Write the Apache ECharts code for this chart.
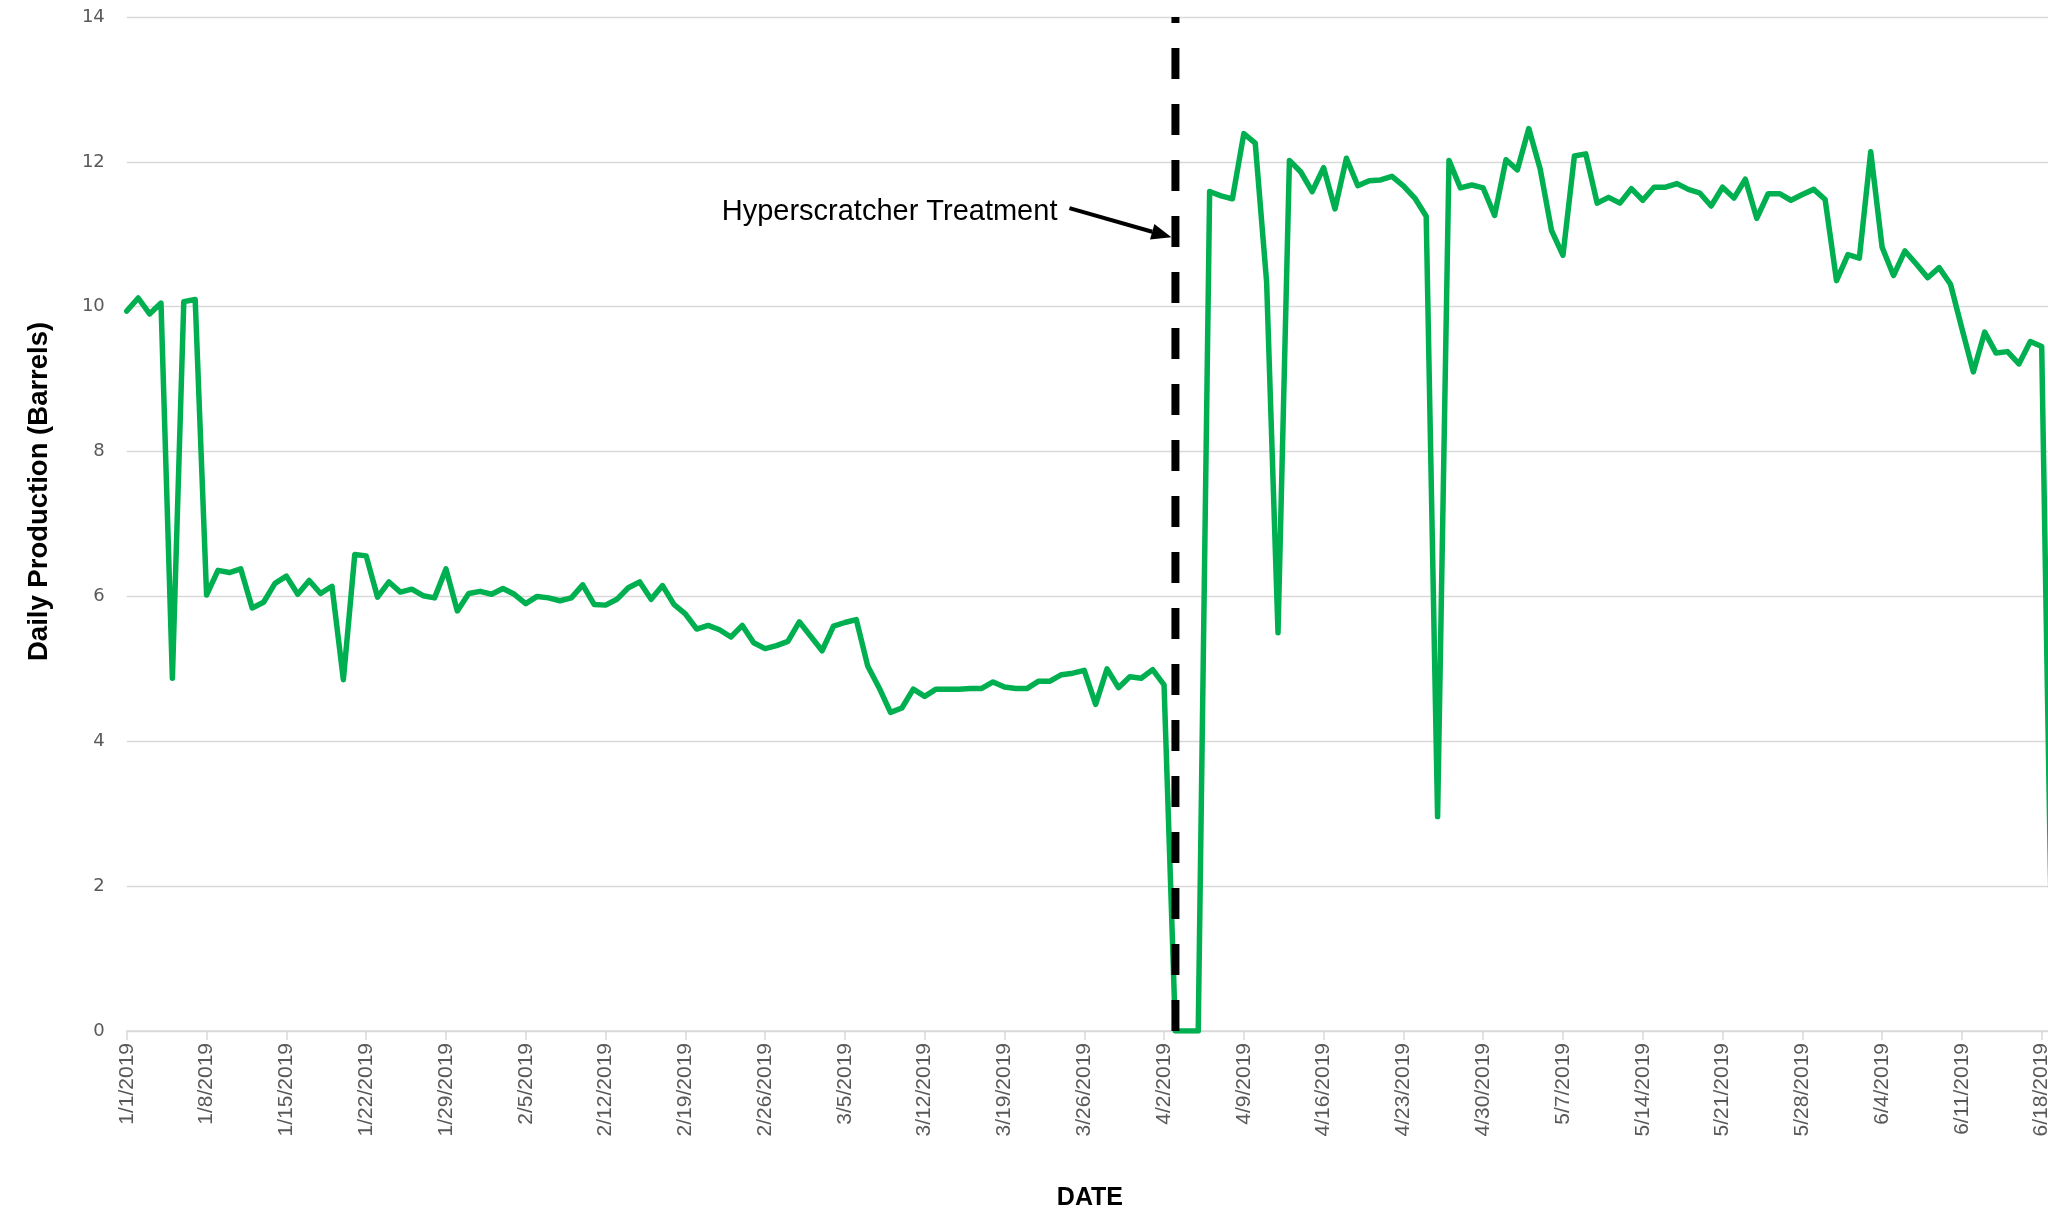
<!DOCTYPE html>
<html>
<head>
<meta charset="utf-8">
<title>Daily Production</title>
<script src="https://cdn.jsdelivr.net/npm/echarts@6/dist/echarts.min.js"></script>
<style>
  html, body { margin: 0; padding: 0; background: #ffffff; overflow: hidden; width: 2048px; height: 1212px; }
  /* the plot runs one day past the right edge of the page */
  #chart { width: 2064px; height: 1212px; }
</style>
</head>
<body>
<div id="chart"></div>
<script>
// Daily production series, one value per day starting 1/1/2019
const startDate = [2019, 1, 1];
const production = [
  9.94, 10.12, 9.90, 10.05, 4.87, 10.07, 10.10, 6.02, 6.36, 6.33,
  6.38, 5.84, 5.92, 6.18, 6.28, 6.03, 6.22, 6.04, 6.14, 4.85,
  6.58, 6.56, 5.99, 6.20, 6.06, 6.10, 6.01, 5.98, 6.38, 5.80,
  6.04, 6.07, 6.03, 6.11, 6.03, 5.90, 6.00, 5.98, 5.94, 5.98,
  6.16, 5.89, 5.88, 5.96, 6.12, 6.20, 5.96, 6.15, 5.89, 5.76,
  5.55, 5.60, 5.54, 5.44, 5.60, 5.36, 5.28, 5.32, 5.38, 5.65,
  5.45, 5.25, 5.59, 5.64, 5.68, 5.04, 4.74, 4.40, 4.46, 4.72,
  4.62, 4.72, 4.72, 4.72, 4.73, 4.73, 4.82, 4.75, 4.73, 4.73,
  4.83, 4.83, 4.92, 4.94, 4.98, 4.51, 5.00, 4.74, 4.89, 4.87,
  4.99, 4.78, 0, 0, 0, 11.59, 11.53, 11.49, 12.39, 12.26,
  10.34, 5.50, 12.02, 11.86, 11.59, 11.92, 11.35, 12.05, 11.67, 11.74,
  11.75, 11.80, 11.67, 11.50, 11.25, 2.96, 12.02, 11.64, 11.68, 11.64,
  11.26, 12.03, 11.89, 12.46, 11.90, 11.05, 10.71, 12.08, 12.11, 11.43,
  11.51, 11.43, 11.63, 11.47, 11.65, 11.65, 11.70, 11.62, 11.57, 11.39,
  11.65, 11.50, 11.76, 11.22, 11.56, 11.56, 11.47, 11.55, 11.62, 11.48,
  10.36, 10.72, 10.67, 12.14, 10.82, 10.43, 10.77, 10.59, 10.40, 10.54,
  10.31, 9.70, 9.10, 9.65, 9.36, 9.38, 9.21, 9.52, 9.45, 0
];

// Date labels (M/D/YYYY), one per production value
const dates = [];
for (let i = 0; i < production.length; i++) {
  const d = new Date(startDate[0], startDate[1] - 1, startDate[2] + i);
  dates.push((d.getMonth() + 1) + '/' + d.getDate() + '/' + d.getFullYear());
}

const yTicks = { min: 0, max: 14, interval: 2 };
const yTitle = 'Daily Production (Barrels)';
const xTitle = 'DATE';
const treatmentDate = '4/3/2019';
const treatmentLabel = 'Hyperscratcher Treatment';
const arrowTipValue = 10.96;

const chart = echarts.init(document.getElementById('chart'), null, { renderer: 'canvas' });

chart.setOption({
  animation: false,
  backgroundColor: '#ffffff',
  grid: {
    left: 126.8, right: 10.9, top: 17, bottom: 181,
    containLabel: false,
    outerBoundsMode: 'none'
  },
  xAxis: {
    type: 'category',
    data: dates,
    boundaryGap: false,
    name: xTitle,
    nameLocation: 'middle',
    nameGap: 155,
    nameTextStyle: { fontFamily: 'Liberation Sans', fontWeight: 'bold', fontSize: 25, color: '#000000' },
    axisLine: { lineStyle: { color: '#d9d9d9', width: 1.5 } },
    axisTick: { show: true, interval: 6, length: 9, lineStyle: { color: '#d9d9d9', width: 1.5 } },
    axisLabel: {
      interval: 6, rotate: 90, margin: 12,
      fontFamily: 'Liberation Sans', fontSize: 21, color: '#595959'
    },
    splitLine: { show: false }
  },
  yAxis: {
    type: 'value',
    min: yTicks.min, max: yTicks.max, interval: yTicks.interval,
    axisLine: { show: false },
    axisTick: { show: false },
    axisLabel: { margin: 22, fontFamily: 'DejaVu Sans', fontSize: 18, color: '#595959' },
    splitLine: { lineStyle: { color: '#d9d9d9', width: 1.3 } }
  },
  series: [
    {
      name: 'Daily Production',
      type: 'line',
      data: production,
      symbol: 'none',
      lineStyle: { color: '#00b050', width: 5.5, cap: 'round', join: 'round' },
      z: 2
    },
    {
      name: 'Treatment',
      type: 'line',
      data: [[treatmentDate, yTicks.min], [treatmentDate, yTicks.max]],
      symbol: 'none',
      lineStyle: { color: '#000000', width: 8, type: [31, 25], cap: 'butt' },
      z: 3
    }
  ]
});

// Callout: label with an arrow pointing at the treatment line
const tip = chart.convertToPixel({ seriesIndex: 0 }, [dates.indexOf(treatmentDate), arrowTipValue]);
const tipX = tip[0] - 4, tipY = tip[1];
const startX = tipX - 102, startY = tipY - 29;
const ang = Math.atan2(tipY - startY, tipX - startX);
const headLen = 20, headHalf = 8;
const baseX = tipX - headLen * Math.cos(ang), baseY = tipY - headLen * Math.sin(ang);
const nx = -Math.sin(ang), ny = Math.cos(ang);

// Vertical axis title, placed beside the value axis
const yMid = chart.convertToPixel({ yAxisIndex: 0 }, 7.45);

chart.setOption({
  graphic: [
    {
      type: 'line',
      shape: { x1: startX, y1: startY, x2: baseX, y2: baseY },
      style: { stroke: '#000000', lineWidth: 4 },
      z: 10
    },
    {
      type: 'polygon',
      shape: { points: [[tipX, tipY], [baseX + nx * headHalf, baseY + ny * headHalf], [baseX - nx * headHalf, baseY - ny * headHalf]] },
      style: { fill: '#000000' },
      z: 10
    },
    {
      type: 'text',
      x: startX - 12,
      y: startY + 4,
      style: {
        text: treatmentLabel,
        font: '29px "Liberation Sans"',
        fill: '#000000',
        align: 'right',
        verticalAlign: 'middle'
      },
      z: 10
    },
    {
      type: 'text',
      x: 39,
      y: yMid,
      rotation: Math.PI / 2,
      style: {
        text: yTitle,
        font: 'bold 27.5px "Liberation Sans"',
        fill: '#000000',
        align: 'center',
        verticalAlign: 'middle'
      },
      z: 10
    }
  ]
});
</script>
</body>
</html>
